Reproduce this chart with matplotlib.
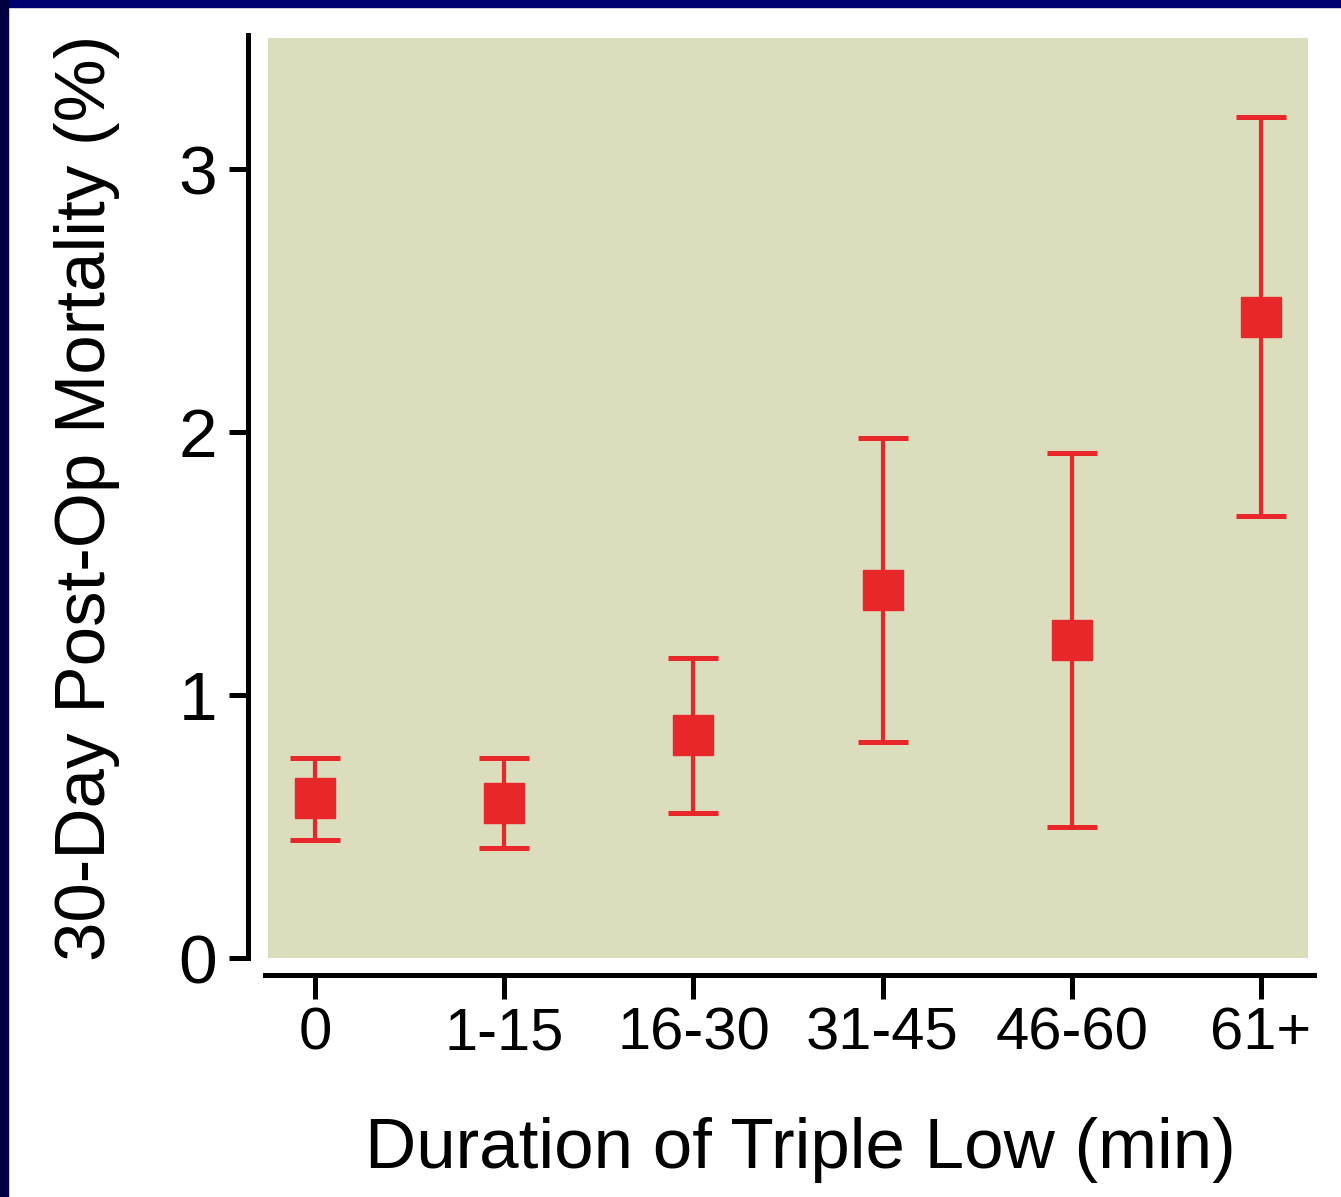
import matplotlib
matplotlib.use('Agg')
import matplotlib.pyplot as plt
from matplotlib.patches import Rectangle
import numpy as np

plt.rcParams['font.family'] = ['Liberation Sans', 'DejaVu Sans']

# data
categories = ['0', '1-15', '16-30', '31-45', '46-60', '61+']
mortality = [0.61, 0.59, 0.85, 1.40, 1.21, 2.44]
ci_low = [0.45, 0.42, 0.55, 0.82, 0.50, 1.68]
ci_high = [0.76, 0.76, 1.14, 1.98, 1.92, 3.20]

W, H = 1341, 1197
fig = plt.figure(figsize=(W / 100, H / 100), dpi=100)
fig.patch.set_facecolor('white')

# navy frame on top and left
fig.patches.append(Rectangle((0, 1 - 7 / H), 1, 7 / H, transform=fig.transFigure,
                             color='#000070', zorder=0))
fig.patches.append(Rectangle((0, 0), 8 / W, 1, transform=fig.transFigure,
                             color='#000040', zorder=0))

ax = fig.add_axes([268 / W, 1 - 958 / H, (1308 - 268) / W, (958 - 38) / H])
ax.set_facecolor('#dcddbd')

x = np.arange(len(categories))
mort = np.array(mortality)
yerr = [mort - np.array(ci_low), np.array(ci_high) - mort]

ax.errorbar(x, mort, yerr=yerr, fmt='s', color='#e8272b', ecolor='#e8272b',
            markersize=29.5, elinewidth=3.0, capsize=18, capthick=3.6, zorder=3)

ax.set_xlim(-0.25, 5.25)
ax.set_ylim(0, 3.5)
ax.set_xticks(x)
ax.set_xticklabels(categories)
ax.set_yticks([0, 1, 2, 3])

for s in ['top', 'right']:
    ax.spines[s].set_visible(False)
ax.spines['left'].set_position(('outward', 14.4))
ax.spines['bottom'].set_position(('outward', 12.2))
ax.spines['left'].set_linewidth(3.6)
ax.spines['bottom'].set_linewidth(3.6)
ax.spines['left'].set_bounds(0, 3.51)
ax.spines['bottom'].set_bounds(-0.265, 5.28)

ax.tick_params(axis='y', length=14, width=3.6, labelsize=50, pad=8)
ax.tick_params(axis='x', length=17, width=3.6, labelsize=43, pad=6)

ax.set_ylabel('30-Day Post-Op Mortality (%)', fontsize=51, labelpad=42)
ax.set_xlabel('Duration of Triple Low (min)', fontsize=51, labelpad=40)
ax.xaxis.label.set_x(0.512)

fig.savefig('out.png', dpi=100)
